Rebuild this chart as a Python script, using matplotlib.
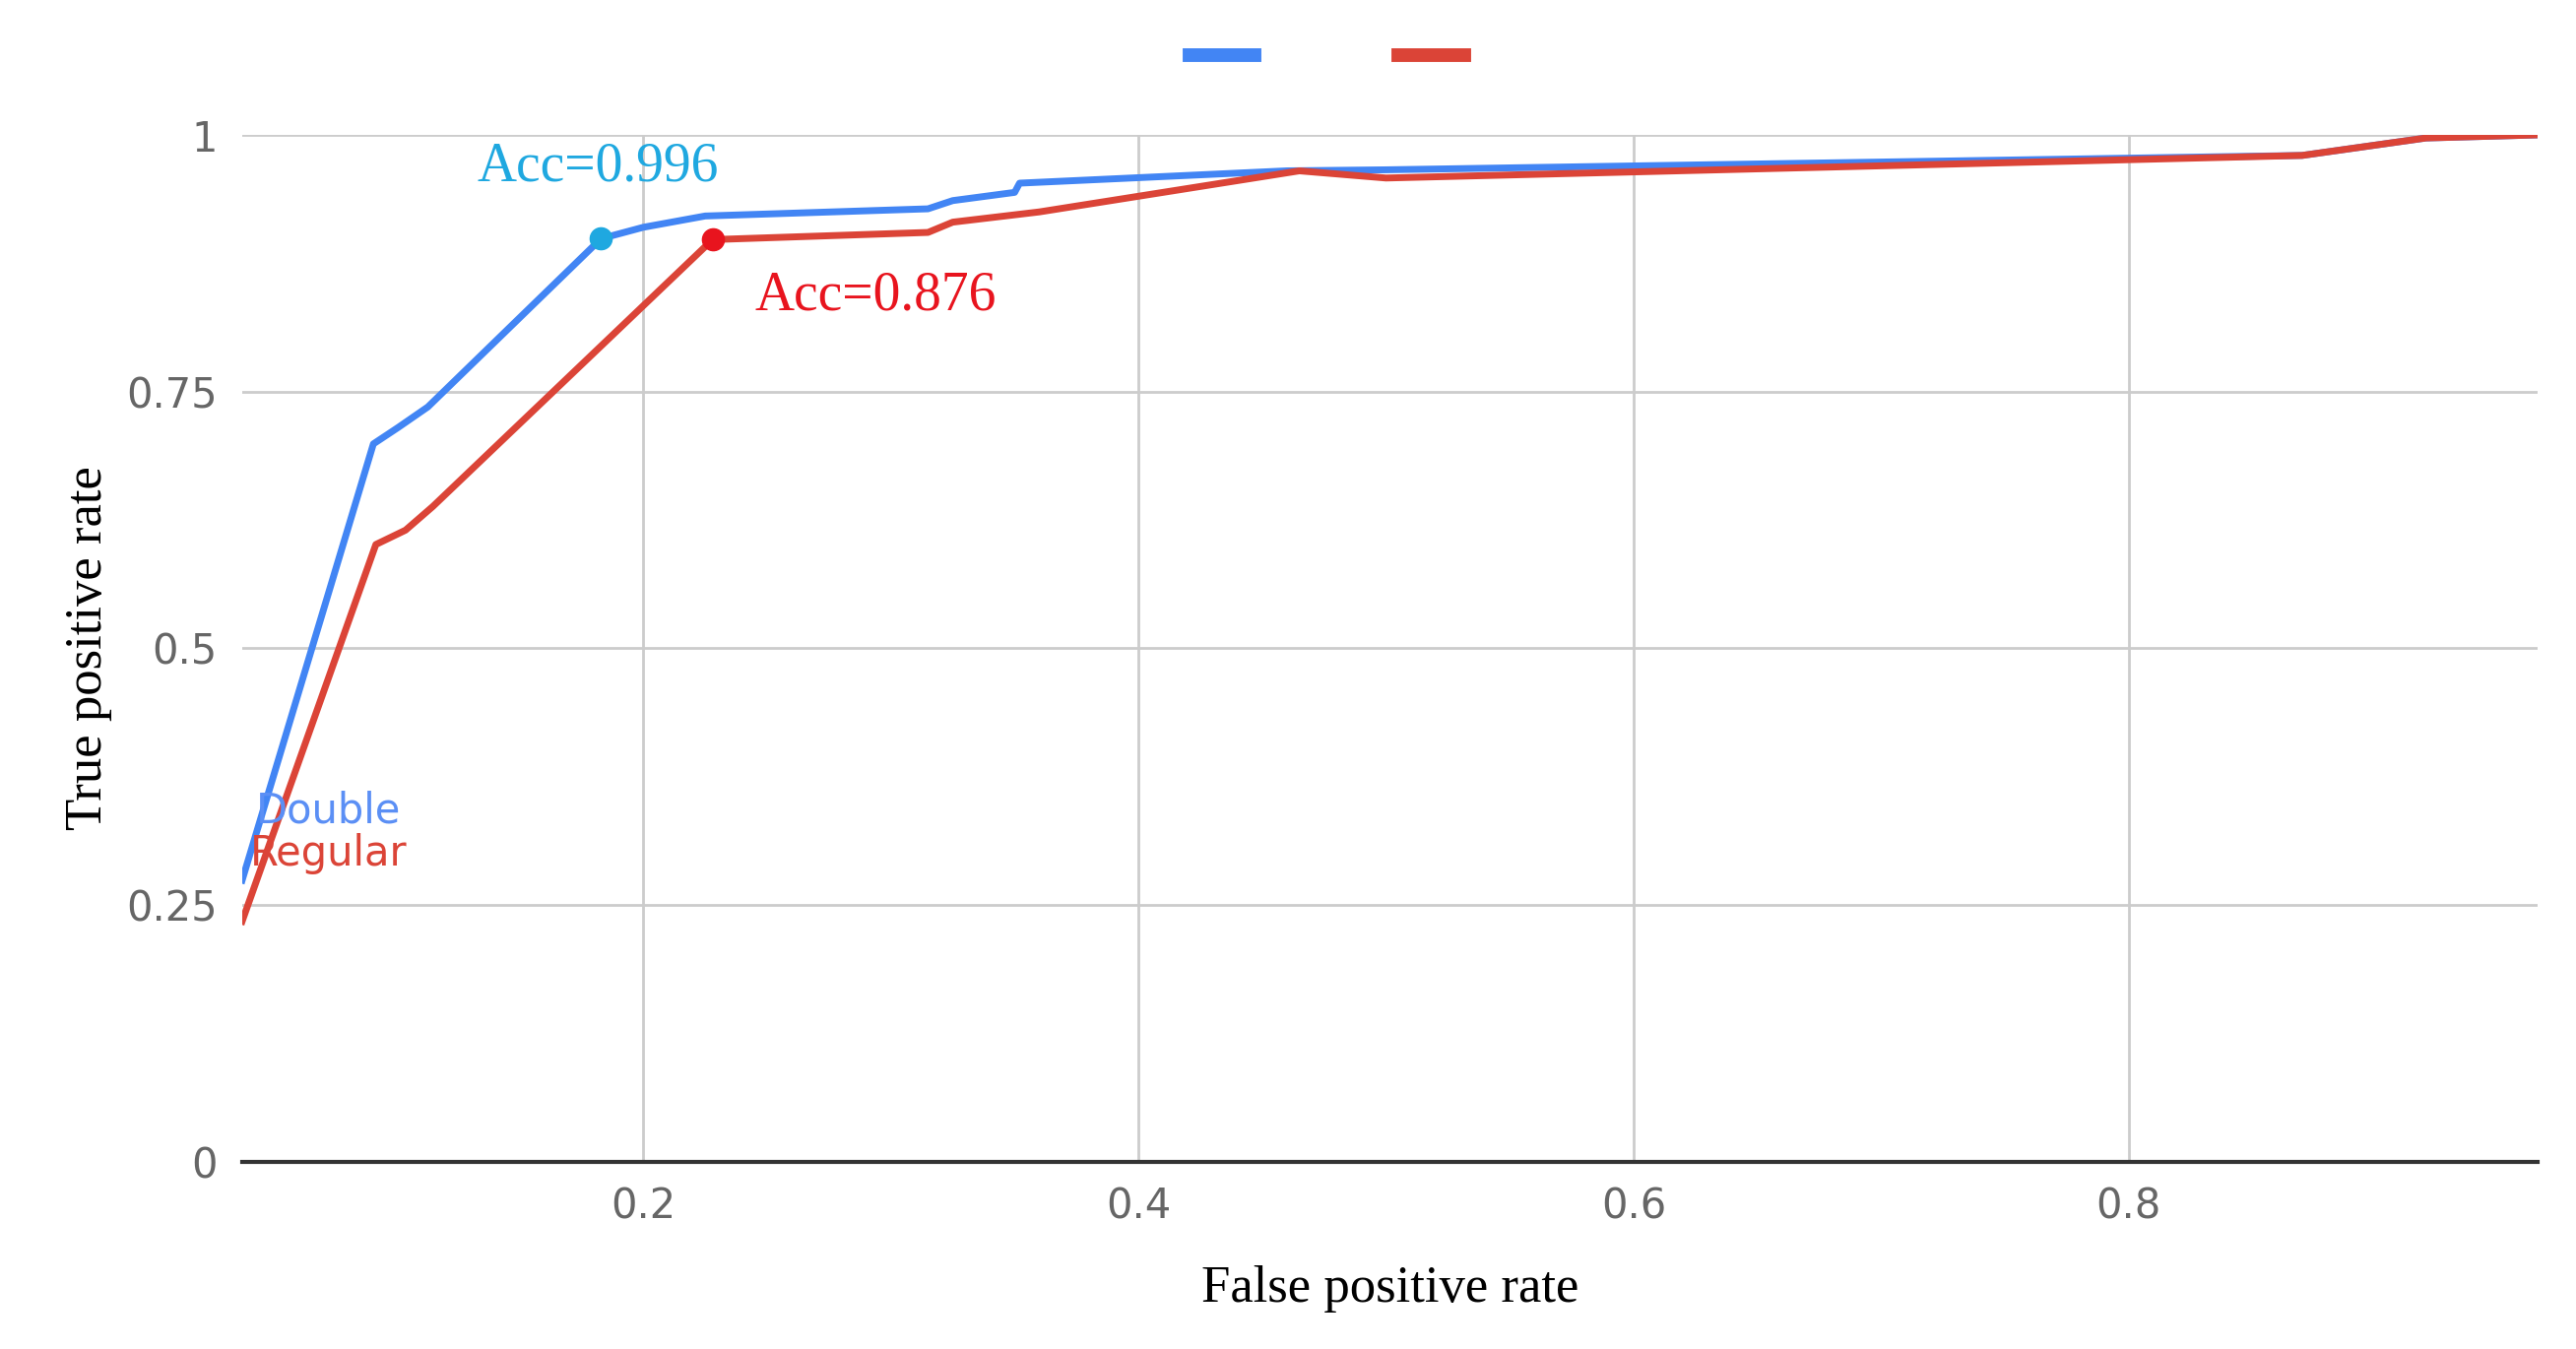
import matplotlib
matplotlib.use("Agg")
import matplotlib.pyplot as plt
from matplotlib.lines import Line2D

# ROC curves
double_fpr = [0.038, 0.091, 0.101, 0.113, 0.183, 0.2, 0.225, 0.315, 0.325, 0.35, 0.352, 0.46, 0.5, 0.87, 0.92, 0.965]
double_tpr = [0.274, 0.699, 0.715, 0.735, 0.899, 0.91, 0.921, 0.928, 0.936, 0.944, 0.953, 0.965, 0.966, 0.98, 0.997, 1.0]
regular_fpr = [0.038, 0.092, 0.104, 0.115, 0.228, 0.315, 0.325, 0.36, 0.465, 0.5, 0.87, 0.92, 0.965]
regular_tpr = [0.234, 0.601, 0.615, 0.638, 0.898, 0.905, 0.915, 0.925, 0.965, 0.958, 0.98, 0.997, 1.0]
double_pt = (0.183, 0.899)
regular_pt = (0.228, 0.898)

blue = "#4285f4"
red = "#db4437"

fig = plt.figure(figsize=(26.16, 13.7), dpi=100)
ax = fig.add_axes([0.094, 0.139, 0.891, 0.761])

ax.plot(double_fpr, double_tpr, color=blue, lw=5)
ax.plot(regular_fpr, regular_tpr, color=red, lw=5)
ax.plot(*double_pt, "o", color="#1fa8e0", ms=16)
ax.plot(*regular_pt, "o", color="#e8141e", ms=16)

ax.text(0.133, 0.955, "Acc=0.996", color="#1fa8e0", fontsize=40, family="Liberation Serif")
ax.text(0.245, 0.83, "Acc=0.876", color="#e8141e", fontsize=40, family="Liberation Serif")
ax.text(0.073, 0.33, "Double", color="#5b8ff5", fontsize=30, ha="center")
ax.text(0.073, 0.288, "Regular", color=red, fontsize=30, ha="center")

ax.set_xlim(0.038, 0.965)
ax.set_ylim(0, 1)
ax.set_xticks([0.2, 0.4, 0.6, 0.8])
ax.set_xticklabels(["0.2", "0.4", "0.6", "0.8"])
ax.set_yticks([0, 0.25, 0.5, 0.75, 1])
ax.set_yticklabels(["0", "0.25", "0.5", "0.75", "1"])
ax.tick_params(length=0, labelsize=30, labelcolor="#666666", pad=18)
ax.grid(color="#cccccc", lw=2)
for s in ["top", "right", "left"]:
    ax.spines[s].set_visible(False)
ax.spines["bottom"].set_color("#333333")
ax.spines["bottom"].set_linewidth(3)

ax.set_xlabel("False positive rate", fontsize=38, family="Liberation Serif", labelpad=28)
ax.set_ylabel("True positive rate", fontsize=38, family="Liberation Serif", labelpad=10)

handles = [Line2D([], [], color=blue, lw=10), Line2D([], [], color=red, lw=10)]
fig.legend(handles, ["", ""], loc="upper center", bbox_to_anchor=(0.515, 1.0), ncol=2,
           frameon=False, handlelength=1.6, columnspacing=3.5, handletextpad=0, fontsize=30)

fig.savefig("out.png", dpi=100)
